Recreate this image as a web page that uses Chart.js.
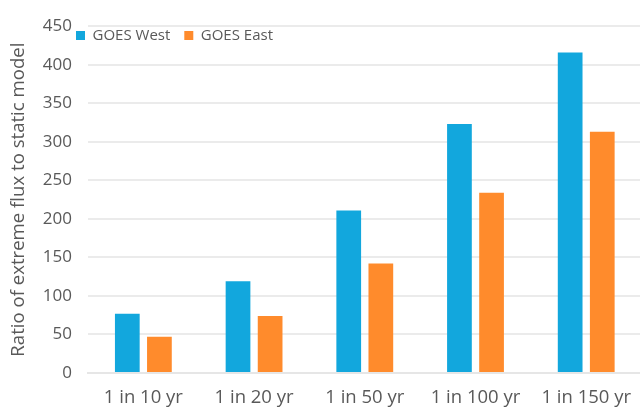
<!DOCTYPE html>
<html>
<head>
<meta charset="utf-8">
<script src="https://cdn.jsdelivr.net/npm/chart.js@4/dist/chart.umd.min.js"></script>
<style>
  html, body { margin: 0; padding: 0; background: #ffffff; overflow: hidden; }
  #wrap { position: relative; width: 640px; height: 410px; overflow: hidden; }
</style>
</head>
<body>
<div id="wrap"><canvas id="c" width="645" height="410"></canvas></div>
<script>
const categories = ["1 in 10 yr", "1 in 20 yr", "1 in 50 yr", "1 in 100 yr", "1 in 150 yr"];
const goesWest = [77, 119, 211, 323, 416];
const goesEast = [47, 74, 142, 234, 313];
const seriesNames = ["GOES West", "GOES East"];
const yTitle = "Ratio of extreme flux to static model";
const yMin = 0, yMax = 450, yStep = 50;

const FONT = "'Open Sans', 'Noto Sans', sans-serif";
const TEXT = '#595959';

// Legend is laid out at the top but takes no vertical space; it is then placed inside the plot.
const overlayLegend = {
  id: 'overlayLegend',
  afterInit(chart) {
    const lg = chart.legend;
    if (!lg) return;
    const origFit = lg.fit.bind(lg);
    lg.fit = function () { origFit(); this._realHeight = this.height; this.height = 0; };
  },
  afterLayout(chart) {
    const lg = chart.legend;
    if (!lg) return;
    const w = lg.right - lg.left;
    lg.left = 62; lg.right = 62 + w;
    lg.top = 14;
    lg.height = lg._realHeight;
    lg.bottom = lg.top + lg.height;
  }
};

new Chart(document.getElementById('c'), {
  type: 'bar',
  data: {
    labels: categories,
    datasets: [
      { label: seriesNames[0], data: goesWest, backgroundColor: '#12A7DD', borderWidth: 0 },
      { label: seriesNames[1], data: goesEast, backgroundColor: '#FF8B2C', borderWidth: 0 }
    ]
  },
  options: {
    responsive: false,
    animation: false,
    devicePixelRatio: 1,
    categoryPercentage: 0.58,
    barPercentage: 0.77,
    layout: { padding: { top: 14, right: 0, left: 0, bottom: 0 } },
    plugins: {
      tooltip: { enabled: false },
      legend: {
        position: 'top',
        align: 'start',
        labels: {
          boxWidth: 9, boxHeight: 9, padding: 14,
          color: TEXT,
          font: { family: FONT, size: 15 }
        }
      }
    },
    scales: {
      x: {
        grid: { display: false, drawTicks: false, tickLength: 0 },
        border: { display: true, color: '#e6e6e6', width: 2 },
        ticks: { color: TEXT, font: { family: FONT, size: 18.5 }, padding: 14 },
        afterFit(s) { s.height = 37; }
      },
      y: {
        min: yMin, max: yMax,
        grid: { color: '#ebebeb', lineWidth: 2, drawTicks: false, tickLength: 0 },
        border: { display: false },
        ticks: { stepSize: yStep, color: TEXT, font: { family: FONT, size: 17 }, padding: 16 },
        title: { display: true, text: yTitle, color: TEXT, font: { family: FONT, size: 18.6 }, padding: { top: 8, bottom: 0 } },
        afterFit(s) { s.width = 88; }
      }
    }
  },
  plugins: [overlayLegend]
});
</script>
</body>
</html>
